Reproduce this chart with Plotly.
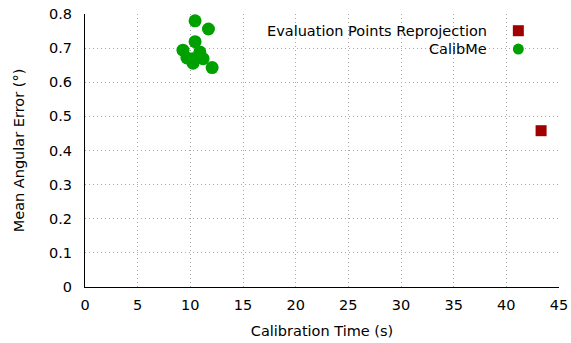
import plotly.graph_objects as go

# Data
calibme_time = [10.45, 11.72, 10.45, 9.30, 10.90, 9.68, 10.23, 11.21, 10.26, 12.07]
calibme_err = [0.780, 0.756, 0.719, 0.694, 0.689, 0.671, 0.669, 0.669, 0.656, 0.643]
eval_time = [43.3]
eval_err = [0.458]

x_ticks = [0, 5, 10, 15, 20, 25, 30, 35, 40, 45]
y_ticks = [0, 0.1, 0.2, 0.3, 0.4, 0.5, 0.6, 0.7, 0.8]

RED = "#a00000"
GREEN = "#00a000"
FONT = "DejaVu Sans"
FS = 14.5

L, R, T, B = 84.5, 559, 14.3, 287

fig = go.Figure()
fig.add_trace(go.Scatter(x=eval_time, y=eval_err, mode="markers", name="Evaluation Points Reprojection",
                         marker=dict(symbol="square", size=11, color=RED, line=dict(width=0)),
                         showlegend=False))
fig.add_trace(go.Scatter(x=calibme_time, y=calibme_err, mode="markers", name="CalibMe",
                         marker=dict(symbol="circle", size=13, color=GREEN, line=dict(width=0)),
                         showlegend=False))

# Legend drawn manually (text on left, symbol on right)
legend_items = [("Evaluation Points Reprojection", RED, "square"), ("CalibMe", GREEN, "circle")]
for i, (label, color, sym) in enumerate(legend_items):
    ypos = 31 + i * 18.3
    yp = 1 - (ypos - T) / (B - T)
    fig.add_annotation(x=(487 - L) / (R - L), y=yp, xref="paper", yref="paper",
                       text=label, showarrow=False, xanchor="right", yanchor="middle",
                       xshift=2, font=dict(family=FONT, size=FS, color="black"))
    cx = (518.3 - L) / (R - L)
    hw = 5.5 / (R - L)
    hh = 5.5 / (B - T)
    fig.add_shape(type="rect" if sym == "square" else "circle", xref="paper", yref="paper",
                  x0=cx - hw, x1=cx + hw, y0=yp - hh, y1=yp + hh,
                  fillcolor=color, line=dict(width=0))

grid = dict(showgrid=True, gridcolor="#a8a8a8", griddash="1px,3px", gridwidth=1,
            zeroline=False, showline=True, linecolor="black", linewidth=1,
            automargin=False, tickfont=dict(family=FONT, size=FS))

fig.update_layout(
    width=571, height=343,
    margin=dict(l=L, r=571 - R, t=T, b=343 - B, autoexpand=False),
    paper_bgcolor="white", plot_bgcolor="white",
    font=dict(family=FONT, size=FS, color="black"),
    xaxis=dict(range=[0, 45], tickvals=x_ticks, ticks="outside", ticklen=5, tickcolor="rgba(0,0,0,0)",
               title=dict(text="Calibration Time (s)", standoff=13, font=dict(family=FONT, size=FS)), **grid),
    yaxis=dict(range=[0, 0.8], tickvals=y_ticks,
               ticktext=["0", "0.1", "0.2", "0.3", "0.4", "0.5", "0.6", "0.7", "0.8"],
               ticks="outside", ticklen=9, tickcolor="rgba(0,0,0,0)",
               title=dict(text="Mean Angular Error (°)", standoff=20, font=dict(family=FONT, size=FS)), **grid),
)

fig.write_html("out.html")
